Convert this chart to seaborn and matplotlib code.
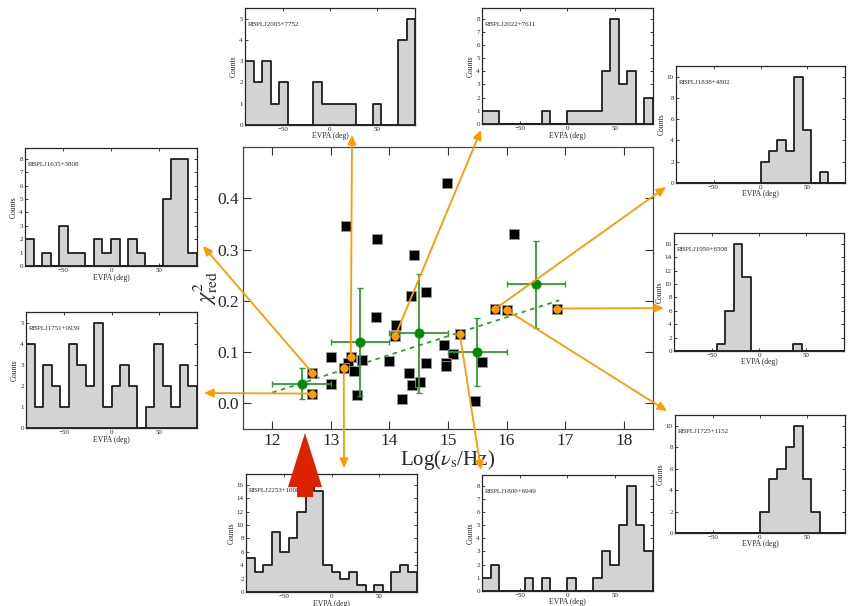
import numpy as np
import pandas as pd
import matplotlib
matplotlib.use("Agg")
import matplotlib.pyplot as plt
import seaborn as sns
from matplotlib.patches import Polygon

# ---------------- data ----------------
# all sources (black squares)
src_logv = [13.25, 13.78, 14.99, 14.42, 16.12, 14.37, 14.63, 13.77, 14.11, 14.10,
            14.94, 15.08, 14.97, 14.97, 14.63, 15.58, 13.99, 13.53, 13.00, 13.34,
            13.30, 13.39, 13.22, 12.68, 13.00, 13.44, 14.34, 14.38, 14.53, 14.21,
            15.46, 12.68, 15.20, 15.80, 16.00, 16.86]
src_chi2 = [0.345, 0.320, 0.430, 0.289, 0.330, 0.210, 0.218, 0.169, 0.153, 0.132,
            0.114, 0.097, 0.079, 0.073, 0.079, 0.080, 0.082, 0.084, 0.090, 0.091,
            0.079, 0.064, 0.069, 0.060, 0.037, 0.016, 0.060, 0.036, 0.041, 0.009,
            0.005, 0.019, 0.136, 0.184, 0.182, 0.185]

# highlighted sources (orange) shown in the insets
hl_names = ["RBPLJ1635+3808", "RBPLJ1751+0939", "RBPLJ2253+1608", "RBPLJ2005+7752",
            "RBPLJ2022+7611", "RBPLJ1806+6949", "RBPLJ1838+4802", "RBPLJ1725+1152",
            "RBPLJ1959+6508"]
hl_logv = [12.68, 12.68, 13.22, 13.34, 14.10, 15.20, 15.80, 16.00, 16.86]
hl_chi2 = [0.060, 0.019, 0.069, 0.091, 0.132, 0.136, 0.184, 0.182, 0.185]

# binned averages (green)
bin_logv = [12.5, 13.5, 14.5, 15.5, 16.5]
bin_chi2 = [0.038, 0.120, 0.137, 0.100, 0.232]
bin_xerr = [0.5, 0.5, 0.5, 0.5, 0.5]
bin_yerr = [0.030, 0.105, 0.116, 0.067, 0.085]

# linear fit (dashed)
fit_logv = [12.0, 16.9]
fit_chi2 = [0.021, 0.201]

# EVPA histograms (20 bins of 9 deg from -90 to 90)
evpa_range = (-90, 90)
evpa_nbins = 20
hist_counts = {
    "RBPLJ2005+7752": [3, 2, 3, 1, 2, 0, 0, 0, 2, 1, 1, 1, 1, 0, 0, 1, 0, 0, 4, 5],
    "RBPLJ2022+7611": [1, 1, 0, 0, 0, 0, 0, 1, 0, 0, 1, 1, 1, 1, 4, 8, 3, 4, 0, 2],
    "RBPLJ1838+4802": [0, 0, 0, 0, 0, 0, 0, 0, 0, 0, 2, 3, 4, 3, 10, 5, 0, 1, 0, 0],
    "RBPLJ1635+3808": [2, 0, 1, 0, 3, 1, 1, 0, 2, 1, 2, 0, 2, 1, 0, 0, 5, 8, 8, 1],
    "RBPLJ1751+0939": [4, 1, 3, 2, 1, 4, 3, 2, 5, 1, 2, 3, 2, 0, 1, 4, 2, 1, 3, 2],
    "RBPLJ1959+6508": [0, 0, 0, 0, 0, 1, 6, 16, 11, 0, 0, 0, 0, 0, 1, 0, 0, 0, 0, 0],
    "RBPLJ1725+1152": [0, 0, 0, 0, 0, 0, 0, 0, 0, 0, 2, 5, 6, 8, 10, 5, 2, 0, 0, 0],
    "RBPLJ2253+1608": [5, 3, 4, 9, 6, 8, 12, 16, 15, 4, 3, 2, 3, 1, 0, 1, 0, 3, 4, 3],
    "RBPLJ1806+6949": [1, 2, 0, 0, 0, 1, 0, 1, 0, 0, 1, 0, 0, 1, 3, 2, 5, 8, 5, 3],
}

# ---------------- layout (figure pixels, from top-left) ----------------
W, H = 852, 606
main_box = (243, 147, 653, 429)
inset_box = {
    "RBPLJ2005+7752": (245, 8, 415, 125),
    "RBPLJ2022+7611": (482, 8, 653, 124),
    "RBPLJ1838+4802": (676, 66, 845, 183),
    "RBPLJ1635+3808": (25, 148, 197, 266),
    "RBPLJ1751+0939": (26, 312, 197, 428),
    "RBPLJ1959+6508": (674, 233, 844, 351),
    "RBPLJ1725+1152": (675, 415, 845, 533),
    "RBPLJ2253+1608": (246, 474, 417, 592),
    "RBPLJ1806+6949": (482, 475, 653, 591),
}
arrow_end = {
    "RBPLJ1635+3808": (203, 246),
    "RBPLJ1751+0939": (204, 393),
    "RBPLJ2253+1608": (344, 468),
    "RBPLJ2005+7752": (352, 135),
    "RBPLJ2022+7611": (481, 130),
    "RBPLJ1806+6949": (481, 470),
    "RBPLJ1838+4802": (666, 187),
    "RBPLJ1725+1152": (667, 411),
    "RBPLJ1959+6508": (664, 308),
}

ORANGE = "#ff9a00"
GREEN = "#008a00"
GREEN_LINE = "#2e9e2e"


def rect(box):
    l, t, r, b = box
    return [l / W, 1 - b / H, (r - l) / W, (b - t) / H]


def fig_frac(px, py):
    return (px / W, 1 - py / H)


sns.set_style("ticks")
plt.rcParams["font.family"] = ["Liberation Serif", "DejaVu Serif"]
plt.rcParams["mathtext.fontset"] = "stix"

fig = plt.figure(figsize=(W / 100, H / 100), dpi=100)

# ---------------- main panel ----------------
ax = fig.add_axes(rect(main_box))
df_src = pd.DataFrame({"logv": src_logv, "chi2": src_chi2})
sns.scatterplot(data=df_src, x="logv", y="chi2", ax=ax, marker="s", s=42,
                color="black", edgecolor="#999999", linewidth=0.6, zorder=3)

df_fit = pd.DataFrame({"logv": fit_logv, "chi2": fit_chi2})
sns.lineplot(data=df_fit, x="logv", y="chi2", ax=ax, color=GREEN_LINE,
             linestyle=(0, (2.5, 2.5)), linewidth=1.3, zorder=2)

ax.errorbar(bin_logv, bin_chi2, xerr=bin_xerr, yerr=bin_yerr, fmt="none",
            ecolor=GREEN_LINE, elinewidth=1.3, capsize=2, capthick=1.0, zorder=4)
df_bin = pd.DataFrame({"logv": bin_logv, "chi2": bin_chi2})
sns.scatterplot(data=df_bin, x="logv", y="chi2", ax=ax, color=GREEN, s=45,
                edgecolor=GREEN, linewidth=0.5, zorder=5)

df_hl = pd.DataFrame({"logv": hl_logv, "chi2": hl_chi2})
sns.scatterplot(data=df_hl, x="logv", y="chi2", ax=ax, color=ORANGE, s=30,
                edgecolor=ORANGE, linewidth=0.5, zorder=7)

ax.set_xlim(11.5, 18.5)
ax.set_ylim(-0.05, 0.5)
ax.set_xticks([12, 13, 14, 15, 16, 17, 18])
ax.set_yticks([0.0, 0.1, 0.2, 0.3, 0.4])
ax.set_yticklabels(["0.0", "0.1", "0.2", "0.3", "0.4"])
ax.tick_params(direction="in", length=6, width=0.8, top=True, right=True,
               labelsize=12.5, pad=3, color="#333333")
for sp in ax.spines.values():
    sp.set_linewidth(0.9)
    sp.set_color("#444444")
ax.set_xlabel(r"Log($\nu_{\rm s}$/Hz)", fontsize=15, labelpad=-1)
ax.set_ylabel(r"$\chi^2_{\rm red}$", fontsize=16, labelpad=-2)

# ---------------- insets ----------------
for name, counts in hist_counts.items():
    iax = fig.add_axes(rect(inset_box[name]))
    width = (evpa_range[1] - evpa_range[0]) / evpa_nbins
    centers = [evpa_range[0] + width * (i + 0.5) for i in range(evpa_nbins)]
    dfh = pd.DataFrame({"evpa": centers, "n": counts})
    sns.histplot(data=dfh, x="evpa", weights="n", bins=evpa_nbins,
                 binrange=evpa_range, element="step",
                 fill=True, ax=iax, facecolor="#d3d3d3", edgecolor="#1e1e1e",
                 linewidth=1.3, alpha=1)
    cmax = max(counts)
    iax.set_xlim(*evpa_range)
    iax.set_ylim(0, 1.1 * cmax)
    step = 2 if cmax > 8 else 1
    top_tick = cmax + (cmax % step)
    iax.set_yticks(np.arange(0, top_tick + 1, step))
    iax.set_xticks([-50, 0, 50])
    iax.tick_params(direction="in", length=2.5, width=0.6, top=True, right=True,
                    labelsize=5, pad=1.5)
    for sp in iax.spines.values():
        sp.set_linewidth(0.9)
    iax.set_xlabel("EVPA (deg)", fontsize=5.5, labelpad=0.3)
    iax.set_ylabel("Counts", fontsize=5.5, labelpad=1)
    iax.text(0.015, 0.86, name, transform=iax.transAxes, fontsize=5,
             va="center", ha="left")

# ---------------- arrows from highlighted points to insets ----------------
for name, x, y in zip(hl_names, hl_logv, hl_chi2):
    ax.annotate("", xy=fig_frac(*arrow_end[name]), xycoords="figure fraction",
                xytext=(x, y), textcoords="data",
                arrowprops=dict(arrowstyle="-|>,head_length=0.55,head_width=0.25",
                                color=ORANGE, lw=1.3, shrinkA=0, shrinkB=0),
                annotation_clip=False, zorder=6)

# ---------------- big red arrow ----------------
tip_x, tip_y = 305, 433
head_base_y, head_half = 487, 17
shaft_half, shaft_bot = 8, 497
red_pts = [(tip_x, tip_y), (tip_x + head_half, head_base_y),
           (tip_x + shaft_half, head_base_y), (tip_x + shaft_half, shaft_bot),
           (tip_x - shaft_half, shaft_bot), (tip_x - shaft_half, head_base_y),
           (tip_x - head_half, head_base_y)]
fig.add_artist(Polygon([fig_frac(px, py) for px, py in red_pts], closed=True,
                       transform=fig.transFigure, facecolor="#dd2200",
                       edgecolor="none", zorder=20))

fig.savefig("out.png", dpi=100)
